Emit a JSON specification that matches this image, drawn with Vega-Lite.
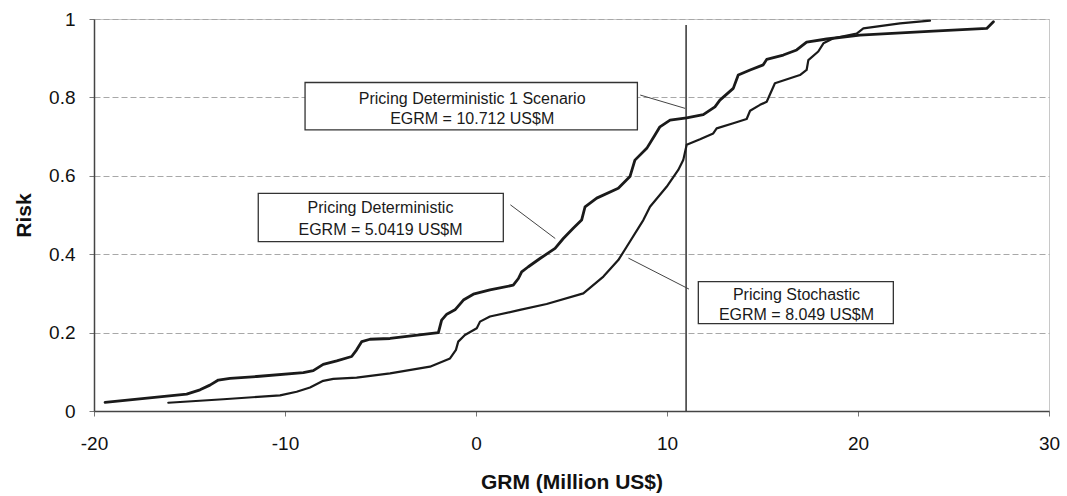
{
  "$schema": "https://vega.github.io/schema/vega-lite/v6.json",
  "width": 955,
  "height": 392,
  "autosize": {"type": "none"},
  "padding": {"left": 94, "top": 19, "right": 18, "bottom": 85},
  "background": "white",
  "config": {
    "font": "Liberation Sans",
    "view": {"stroke": "#c8c8c8", "strokeWidth": 1}
  },
  "datasets": {
    "curves": [
      {"series": "Deterministic", "x": -19.42, "y": 0.022},
      {"series": "Deterministic", "x": -15.15, "y": 0.043},
      {"series": "Deterministic", "x": -14.45, "y": 0.054},
      {"series": "Deterministic", "x": -13.93, "y": 0.066},
      {"series": "Deterministic", "x": -13.49, "y": 0.079},
      {"series": "Deterministic", "x": -12.88, "y": 0.083},
      {"series": "Deterministic", "x": -11.48, "y": 0.088},
      {"series": "Deterministic", "x": -9.04, "y": 0.098},
      {"series": "Deterministic", "x": -8.52, "y": 0.103},
      {"series": "Deterministic", "x": -8.0, "y": 0.119},
      {"series": "Deterministic", "x": -7.29, "y": 0.128},
      {"series": "Deterministic", "x": -6.51, "y": 0.139},
      {"series": "Deterministic", "x": -6.25, "y": 0.156},
      {"series": "Deterministic", "x": -5.98, "y": 0.177},
      {"series": "Deterministic", "x": -5.55, "y": 0.183},
      {"series": "Deterministic", "x": -4.5, "y": 0.185},
      {"series": "Deterministic", "x": -1.97, "y": 0.2},
      {"series": "Deterministic", "x": -1.8, "y": 0.232},
      {"series": "Deterministic", "x": -1.53, "y": 0.247},
      {"series": "Deterministic", "x": -1.1, "y": 0.258},
      {"series": "Deterministic", "x": -0.66, "y": 0.283},
      {"series": "Deterministic", "x": -0.14, "y": 0.298},
      {"series": "Deterministic", "x": 0.73, "y": 0.309},
      {"series": "Deterministic", "x": 1.95, "y": 0.321},
      {"series": "Deterministic", "x": 2.22, "y": 0.338},
      {"series": "Deterministic", "x": 2.39, "y": 0.355},
      {"series": "Deterministic", "x": 2.74, "y": 0.368},
      {"series": "Deterministic", "x": 3.35, "y": 0.389},
      {"series": "Deterministic", "x": 4.14, "y": 0.415},
      {"series": "Deterministic", "x": 4.57, "y": 0.44},
      {"series": "Deterministic", "x": 5.09, "y": 0.466},
      {"series": "Deterministic", "x": 5.53, "y": 0.487},
      {"series": "Deterministic", "x": 5.71, "y": 0.521},
      {"series": "Deterministic", "x": 6.32, "y": 0.543},
      {"series": "Deterministic", "x": 7.45, "y": 0.568},
      {"series": "Deterministic", "x": 8.06, "y": 0.598},
      {"series": "Deterministic", "x": 8.32, "y": 0.64},
      {"series": "Deterministic", "x": 8.94, "y": 0.67},
      {"series": "Deterministic", "x": 9.37, "y": 0.704},
      {"series": "Deterministic", "x": 9.63, "y": 0.725},
      {"series": "Deterministic", "x": 10.16, "y": 0.742},
      {"series": "Deterministic", "x": 11.03, "y": 0.748},
      {"series": "Deterministic", "x": 11.9, "y": 0.756},
      {"series": "Deterministic", "x": 12.51, "y": 0.776},
      {"series": "Deterministic", "x": 12.77, "y": 0.793},
      {"series": "Deterministic", "x": 13.47, "y": 0.823},
      {"series": "Deterministic", "x": 13.73, "y": 0.857},
      {"series": "Deterministic", "x": 14.35, "y": 0.87},
      {"series": "Deterministic", "x": 15.04, "y": 0.883},
      {"series": "Deterministic", "x": 15.22, "y": 0.897},
      {"series": "Deterministic", "x": 16.09, "y": 0.908},
      {"series": "Deterministic", "x": 16.79, "y": 0.921},
      {"series": "Deterministic", "x": 17.31, "y": 0.941},
      {"series": "Deterministic", "x": 18.36, "y": 0.949},
      {"series": "Deterministic", "x": 20.1, "y": 0.959},
      {"series": "Deterministic", "x": 23.94, "y": 0.969},
      {"series": "Deterministic", "x": 26.74, "y": 0.976},
      {"series": "Deterministic", "x": 27.09, "y": 0.993},
      {"series": "Stochastic", "x": -16.11, "y": 0.021},
      {"series": "Stochastic", "x": -13.23, "y": 0.03},
      {"series": "Stochastic", "x": -10.26, "y": 0.04},
      {"series": "Stochastic", "x": -9.39, "y": 0.049},
      {"series": "Stochastic", "x": -8.69, "y": 0.06},
      {"series": "Stochastic", "x": -8.0, "y": 0.077},
      {"series": "Stochastic", "x": -7.47, "y": 0.082},
      {"series": "Stochastic", "x": -6.25, "y": 0.085},
      {"series": "Stochastic", "x": -4.5, "y": 0.096},
      {"series": "Stochastic", "x": -2.41, "y": 0.113},
      {"series": "Stochastic", "x": -1.36, "y": 0.134},
      {"series": "Stochastic", "x": -1.05, "y": 0.156},
      {"series": "Stochastic", "x": -0.93, "y": 0.177},
      {"series": "Stochastic", "x": -0.58, "y": 0.194},
      {"series": "Stochastic", "x": 0.04, "y": 0.211},
      {"series": "Stochastic", "x": 0.21, "y": 0.228},
      {"series": "Stochastic", "x": 0.73, "y": 0.241},
      {"series": "Stochastic", "x": 2.3, "y": 0.258},
      {"series": "Stochastic", "x": 3.7, "y": 0.273},
      {"series": "Stochastic", "x": 5.62, "y": 0.3},
      {"series": "Stochastic", "x": 6.67, "y": 0.343},
      {"series": "Stochastic", "x": 7.45, "y": 0.385},
      {"series": "Stochastic", "x": 7.89, "y": 0.419},
      {"series": "Stochastic", "x": 8.76, "y": 0.487},
      {"series": "Stochastic", "x": 9.11, "y": 0.521},
      {"series": "Stochastic", "x": 9.98, "y": 0.572},
      {"series": "Stochastic", "x": 10.59, "y": 0.615},
      {"series": "Stochastic", "x": 10.85, "y": 0.64},
      {"series": "Stochastic", "x": 11.03, "y": 0.679},
      {"series": "Stochastic", "x": 11.73, "y": 0.693},
      {"series": "Stochastic", "x": 12.42, "y": 0.708},
      {"series": "Stochastic", "x": 12.6, "y": 0.721},
      {"series": "Stochastic", "x": 13.47, "y": 0.734},
      {"series": "Stochastic", "x": 14.17, "y": 0.745},
      {"series": "Stochastic", "x": 14.35, "y": 0.766},
      {"series": "Stochastic", "x": 14.87, "y": 0.781},
      {"series": "Stochastic", "x": 15.22, "y": 0.789},
      {"series": "Stochastic", "x": 15.65, "y": 0.836},
      {"series": "Stochastic", "x": 16.96, "y": 0.857},
      {"series": "Stochastic", "x": 17.31, "y": 0.87},
      {"series": "Stochastic", "x": 17.4, "y": 0.895},
      {"series": "Stochastic", "x": 17.92, "y": 0.917},
      {"series": "Stochastic", "x": 18.19, "y": 0.938},
      {"series": "Stochastic", "x": 18.71, "y": 0.951},
      {"series": "Stochastic", "x": 19.93, "y": 0.963},
      {"series": "Stochastic", "x": 20.28, "y": 0.976},
      {"series": "Stochastic", "x": 22.2, "y": 0.989},
      {"series": "Stochastic", "x": 23.77, "y": 0.996}
    ],
    "vline": [
      {"x": 11, "x2": 11, "y": 0, "y2": 0.985}
    ],
    "leaders": [
      {"x": 8.6, "y": 0.806, "x2": 10.95, "y2": 0.772},
      {"x": 1.8, "y": 0.526, "x2": 4.15, "y2": 0.44},
      {"x": 7.98, "y": 0.39, "x2": 11.15, "y2": 0.311}
    ],
    "boxes": [
      {"x": -8.95, "x2": 8.45, "y": 0.717, "y2": 0.838},
      {"x": -11.4, "x2": 1.43, "y": 0.432, "y2": 0.555},
      {"x": 11.64, "x2": 21.85, "y": 0.223, "y2": 0.33}
    ],
    "labels": [
      {"x": -0.2, "y": 0.797, "label": "Pricing Deterministic 1 Scenario"},
      {"x": -0.2, "y": 0.744, "label": "EGRM = 10.712 US$M"},
      {"x": -5.0, "y": 0.517, "label": "Pricing Deterministic"},
      {"x": -5.0, "y": 0.462, "label": "EGRM = 5.0419 US$M"},
      {"x": 16.78, "y": 0.296, "label": "Pricing Stochastic"},
      {"x": 16.78, "y": 0.245, "label": "EGRM = 8.049 US$M"}
    ]
  },
  "encoding": {
    "x": {
      "field": "x",
      "type": "quantitative",
      "title": "GRM (Million US$)",
      "scale": {"domain": [-20, 30], "nice": false, "zero": false},
      "axis": {
        "values": [-20, -10, 0, 10, 20, 30],
        "labelExpr": "'' + datum.value",
        "grid": false,
        "domainColor": "#444444",
        "domainWidth": 1.5,
        "tickColor": "#777777",
        "tickSize": 5,
        "labelFontSize": 19,
        "labelColor": "#111111",
        "labelPadding": 18,
        "labelFlush": false,
        "titleFontSize": 21,
        "titleFontWeight": "bold",
        "titleColor": "#111111",
        "titlePadding": 18
      }
    },
    "y": {
      "field": "y",
      "type": "quantitative",
      "title": "Risk",
      "scale": {"domain": [0, 1], "nice": false},
      "axis": {
        "values": [0, 0.2, 0.4, 0.6, 0.8, 1],
        "labelExpr": "'' + datum.value",
        "grid": true,
        "gridColor": "#a8a8a8",
        "gridDash": [6, 3],
        "gridWidth": 1,
        "domainColor": "#444444",
        "domainWidth": 1.5,
        "tickColor": "#777777",
        "tickSize": 5,
        "labelFontSize": 19,
        "labelColor": "#111111",
        "labelPadding": 14,
        "titleFontSize": 21,
        "titleFontWeight": "bold",
        "titleColor": "#111111",
        "titlePadding": 14
      }
    }
  },
  "layer": [
    {
      "data": {"name": "vline"},
      "mark": {"type": "rule", "color": "#333333", "strokeWidth": 1.5},
      "encoding": {"x2": {"field": "x2"}, "y2": {"field": "y2"}}
    },
    {
      "data": {"name": "curves"},
      "mark": {"type": "line", "color": "#1a1a1a", "strokeJoin": "round", "strokeCap": "round"},
      "encoding": {
        "detail": {"field": "series"},
        "strokeWidth": {
          "field": "series",
          "type": "nominal",
          "scale": {"domain": ["Deterministic", "Stochastic"], "range": [2.8, 2.2]},
          "legend": null
        }
      }
    },
    {
      "data": {"name": "leaders"},
      "mark": {"type": "rule", "color": "#444444", "strokeWidth": 1},
      "encoding": {"x2": {"field": "x2"}, "y2": {"field": "y2"}}
    },
    {
      "data": {"name": "boxes"},
      "mark": {"type": "rect", "fill": "white", "stroke": "#333333", "strokeWidth": 1.3},
      "encoding": {"x2": {"field": "x2"}, "y2": {"field": "y2"}}
    },
    {
      "data": {"name": "labels"},
      "mark": {"type": "text", "fontSize": 16, "align": "center", "baseline": "middle", "color": "#1a1a1a"},
      "encoding": {
        "text": {"field": "label"}
      }
    }
  ]
}
